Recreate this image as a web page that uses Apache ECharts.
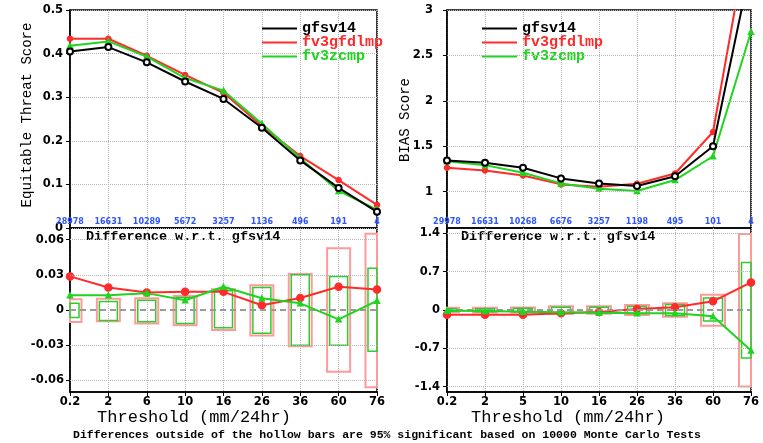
<!DOCTYPE html>
<html><head><meta charset="utf-8">
<script src="https://cdn.jsdelivr.net/npm/echarts@6/dist/echarts.min.js"></script>
<style>html,body{margin:0;padding:0;background:#fff}#c{width:763px;height:443px}</style>
</head><body><div id="c"></div>
<script>
// ---------- data ----------
const seriesNames = ['gfsv14', 'fv3gfdlmp', 'fv3zcmp'];
const etsCounts = ['28978', '16631', '10289', '5672', '3257', '1136', '496', '191', '4'];
const biasCounts = ['29978', '16631', '10268', '6676', '3257', '1198', '495', '101', '4'];
const etsThresholds = ['0.2', '2', '6', '10', '16', '26', '36', '60', '76'];
const biasThresholds = ['0.2', '2', '5', '10', '16', '26', '36', '60', '76'];

const etsGfsv14 = [0.405, 0.415, 0.380, 0.336, 0.296, 0.230, 0.155, 0.092, 0.037];
const etsGfdlmp = [0.434, 0.434, 0.395, 0.351, 0.310, 0.234, 0.165, 0.110, 0.053];
const etsZcmp = [0.418, 0.428, 0.393, 0.344, 0.315, 0.239, 0.160, 0.085, 0.042];

const etsDiffGfdlmp = [0.0287, 0.0192, 0.0149, 0.0155, 0.0155, 0.0040, 0.0103, 0.0198, 0.0175];
const etsDiffZcmp = [0.0126, 0.0126, 0.0144, 0.0083, 0.0198, 0.0100, 0.0057, -0.0080, 0.0078];
const etsBoxGfdlmpHigh = [0.0092, 0.0097, 0.0100, 0.0120, 0.0178, 0.0212, 0.0307, 0.0528, 0.0650];
const etsBoxGfdlmpLow = [-0.0103, -0.0097, -0.0115, -0.0130, -0.0170, -0.0218, -0.0310, -0.0528, -0.0660];
const etsBoxZcmpHigh = [0.0057, 0.0072, 0.0083, 0.0106, 0.0164, 0.0192, 0.0300, 0.0287, 0.0356];
const etsBoxZcmpLow = [-0.0063, -0.0089, -0.0100, -0.0115, -0.0152, -0.0198, -0.0300, -0.0300, -0.0353];

const biasGfsv14 = [1.343, 1.318, 1.263, 1.146, 1.091, 1.062, 1.170, 1.500, 3.50];
const biasGfdlmp = [1.263, 1.234, 1.179, 1.080, 1.055, 1.088, 1.200, 1.657, 4.00];
const biasZcmp = [1.336, 1.292, 1.208, 1.091, 1.033, 1.007, 1.128, 1.390, 2.76];

const biasDiffGfdlmp = [-0.085, -0.085, -0.085, -0.060, -0.037, 0.018, 0.050, 0.158, 0.505];
const biasDiffZcmp = [-0.012, -0.020, -0.030, -0.040, -0.050, -0.060, -0.060, -0.116, -0.743];
const biasBoxGfdlmpHigh = [0.040, 0.040, 0.045, 0.070, 0.070, 0.090, 0.125, 0.280, 1.39];
const biasBoxGfdlmpLow = [-0.040, -0.045, -0.045, -0.075, -0.070, -0.090, -0.125, -0.290, -1.40];
const biasBoxZcmpHigh = [0.025, 0.025, 0.030, 0.050, 0.050, 0.065, 0.100, 0.220, 0.87];
const biasBoxZcmpLow = [-0.025, -0.030, -0.030, -0.050, -0.050, -0.065, -0.100, -0.200, -0.88];

const etsYTicks = [0, 0.1, 0.2, 0.3, 0.4, 0.5];
const biasYTicks = [1, 1.5, 2, 2.5, 3];
const etsDiffTicks = [-0.06, -0.03, 0, 0.03, 0.06];
const biasDiffTicks = [-1.4, -0.7, 0, 0.7, 1.4];

// ---------- style ----------
const COL = {black: '#000000', red: '#ff2b2b', green: '#1fd41f', redBox: '#ff9a9a', greenBox: '#2ecc2e', grid: '#b5b5b5', count: '#2f55ff'};
const tickFont = {fontFamily: 'DejaVu Sans', fontWeight: 'bold', fontSize: 11.5, color: '#000'};

const chart = echarts.init(document.getElementById('c'), null, {renderer: 'canvas'});

function gridDef(l, t, w, h) {
  return {left: l, top: t, width: w, height: h, show: true, borderColor: '#000', borderWidth: 1.5,
    backgroundColor: 'transparent', containLabel: false, outerBoundsMode: 'none'};
}
const grids = [gridDef(70, 10, 307, 218), gridDef(70, 228, 307, 164), gridDef(447, 10, 304, 218), gridDef(447, 228, 304, 164)];

function countAxis(gi, data) {
  return {type: 'category', gridIndex: gi, data: data, boundaryGap: false,
    axisLine: {show: false, onZero: false}, axisTick: {show: false},
    axisLabel: {inside: true, interval: 0, margin: 2, color: COL.count, fontFamily: 'DejaVu Sans', fontWeight: 'bold', fontSize: 8},
    splitLine: {show: true, interval: 0, lineStyle: {color: COL.grid, type: 'dotted', width: 1}}};
}
function threshAxis(gi, data) {
  return {type: 'category', gridIndex: gi, data: data, boundaryGap: false,
    axisLine: {show: true, onZero: false, lineStyle: {color: '#000', width: 1.5}},
    axisTick: {show: true, interval: 0, length: 4, lineStyle: {color: '#000'}},
    axisLabel: Object.assign({interval: 0, margin: 4}, tickFont),
    splitLine: {show: true, interval: 0, lineStyle: {color: COL.grid, type: 'dotted', width: 1}}};
}
function customYAxis(gi, min, max, ticks, fmt, margin) {
  return {type: 'value', gridIndex: gi, min: min, max: max,
    axisLine: {show: true, onZero: false, lineStyle: {color: '#000', width: 1.5}},
    axisTick: {show: true, length: 4, customValues: ticks, lineStyle: {color: '#000'}},
    axisLabel: Object.assign({customValues: ticks, margin: margin, formatter: fmt}, tickFont),
    splitLine: {show: false}};
}

function lineSeries(name, xi, yi, data, color, symbol, size, z) {
  return {type: 'line', name: name, xAxisIndex: xi, yAxisIndex: yi, data: data, z: z || 3,
    symbol: symbol, symbolSize: size, showSymbol: true, animation: false, clip: true,
    lineStyle: {color: color, width: 2}, itemStyle: {color: color, borderColor: color, borderWidth: 1.5}};
}
function boxSeries(name, xi, yi, lows, highs, color, halfW, lw) {
  return {type: 'custom', name: name, xAxisIndex: xi, yAxisIndex: yi, silent: true, z: 2, animation: false,
    data: lows.map((l, i) => [i, l, highs[i]]),
    encode: {x: 0, y: [1, 2]},
    renderItem: function (params, api) {
      const top = api.coord([api.value(0), api.value(2)]);
      const bot = api.coord([api.value(0), api.value(1)]);
      const cs = params.coordSys;
      const r = echarts.graphic.clipRectByRect(
        {x: top[0] - halfW, y: top[1], width: halfW * 2, height: bot[1] - top[1]},
        {x: cs.x, y: cs.y, width: cs.width, height: cs.height});
      if (!r) return;
      return {type: 'rect', shape: r, style: {fill: 'none', stroke: color, lineWidth: lw}};
    }};
}
function gridLineSeries(xi, yi, values, zeroLine) {
  return {type: 'line', name: 'grid' + xi, xAxisIndex: xi, yAxisIndex: yi, data: [], z: 1, silent: true, animation: false,
    markLine: {silent: true, symbol: 'none', label: {show: false}, animation: false,
      data: values.map(v => ({yAxis: v, lineStyle: (zeroLine && v === 0)
        ? {color: '#9a9a9a', type: [6, 4], width: 2}
        : {color: COL.grid, type: 'dotted', width: 1}}))}};
}

function legendDef(left) {
  return {left: left, top: 16, orient: 'vertical', icon: 'rect', itemWidth: 35, itemHeight: 2, itemGap: -1,
    selectedMode: false, itemStyle: {borderWidth: 0},
    textStyle: {fontFamily: 'Liberation Mono', fontWeight: 'bold', fontSize: 15, lineHeight: 14},
    data: [
      {name: seriesNames[0], textStyle: {color: COL.black}},
      {name: seriesNames[1], textStyle: {color: COL.red}},
      {name: seriesNames[2], textStyle: {color: COL.green}}]};
}

function txt(x, y, text, font, opts) {
  return Object.assign({type: 'text', x: x, y: y, silent: true,
    style: Object.assign({text: text, fill: '#000', textAlign: 'center', textVerticalAlign: 'middle'}, font)}, opts || {});
}

const option = {
  animation: false,
  backgroundColor: '#ffffff',
  grid: grids,
  legend: [legendDef(257), legendDef(477)],
  xAxis: [countAxis(0, etsCounts), threshAxis(1, etsThresholds), countAxis(2, biasCounts), threshAxis(3, biasThresholds)],
  yAxis: [
    {type: 'value', gridIndex: 0, min: 0, max: 0.5, interval: 0.1,
      axisLine: {show: true, onZero: false, lineStyle: {color: '#000', width: 1.5}},
      axisTick: {show: true, length: 4, lineStyle: {color: '#000'}},
      axisLabel: Object.assign({margin: 7, formatter: v => (v === 0 ? '0' : v.toFixed(1))}, tickFont),
      splitLine: {show: true, lineStyle: {color: COL.grid, type: 'dotted', width: 1}}},
    customYAxis(1, -0.07, 0.07, etsDiffTicks, v => (Math.abs(v) < 1e-9 ? '0' : v.toFixed(2)), 6),
    customYAxis(2, 0.6, 3, biasYTicks, v => String(+v.toFixed(1)), 14),
    customYAxis(3, -1.5, 1.5, biasDiffTicks, v => (Math.abs(v) < 1e-9 ? '0' : v.toFixed(1)), 7)
  ],
  series: [
    // ETS
    lineSeries(seriesNames[0], 0, 0, etsGfsv14, COL.black, 'emptyCircle', 6, 5),
    lineSeries(seriesNames[1], 0, 0, etsGfdlmp, COL.red, 'circle', 5, 3),
    lineSeries(seriesNames[2], 0, 0, etsZcmp, COL.green, 'triangle', 5, 4),
    // ETS difference
    gridLineSeries(1, 1, etsDiffTicks, true),
    boxSeries('box-ets-gfdlmp', 1, 1, etsBoxGfdlmpLow, etsBoxGfdlmpHigh, COL.redBox, 11.5, 2),
    boxSeries('box-ets-zcmp', 1, 1, etsBoxZcmpLow, etsBoxZcmpHigh, COL.greenBox, 9, 1.5),
    lineSeries('diff-ets-gfdlmp', 1, 1, etsDiffGfdlmp, COL.red, 'circle', 7, 4),
    lineSeries('diff-ets-zcmp', 1, 1, etsDiffZcmp, COL.green, 'triangle', 5, 5),
    // BIAS
    gridLineSeries(2, 2, biasYTicks, false),
    lineSeries(seriesNames[0], 2, 2, biasGfsv14, COL.black, 'emptyCircle', 6, 5),
    lineSeries(seriesNames[1], 2, 2, biasGfdlmp, COL.red, 'circle', 5, 3),
    lineSeries(seriesNames[2], 2, 2, biasZcmp, COL.green, 'triangle', 5, 4),
    // BIAS difference
    gridLineSeries(3, 3, biasDiffTicks, true),
    boxSeries('box-bias-gfdlmp', 3, 3, biasBoxGfdlmpLow, biasBoxGfdlmpHigh, COL.redBox, 12, 2),
    boxSeries('box-bias-zcmp', 3, 3, biasBoxZcmpLow, biasBoxZcmpHigh, COL.greenBox, 9.5, 1.5),
    lineSeries('diff-bias-gfdlmp', 3, 3, biasDiffGfdlmp, COL.red, 'circle', 7, 4),
    lineSeries('diff-bias-zcmp', 3, 3, biasDiffZcmp, COL.green, 'triangle', 5, 5)
  ],
  graphic: [
    txt(27, 115, 'Equitable Threat Score', {font: '14px "Liberation Mono"'}, {rotation: Math.PI / 2}),
    txt(405, 120, 'BIAS Score', {font: '14px "Liberation Mono"'}, {rotation: Math.PI / 2}),
    txt(86, 237, 'Difference w.r.t. gfsv14', {font: 'bold 13.5px "Liberation Mono"', textAlign: 'left'}),
    txt(461, 237, 'Difference w.r.t. gfsv14', {font: 'bold 13.5px "Liberation Mono"', textAlign: 'left'}),
    txt(194, 417, 'Threshold (mm/24hr)', {font: '17px "Liberation Mono"'}),
    txt(568, 417, 'Threshold (mm/24hr)', {font: '17px "Liberation Mono"'}),
    txt(73, 435, 'Differences outside of the hollow bars are 95% significant based on 10000 Monte Carlo Tests',
      {font: 'bold 11.5px "Liberation Mono"', textAlign: 'left'})
  ]
};
chart.setOption(option);
</script>
</body></html>
